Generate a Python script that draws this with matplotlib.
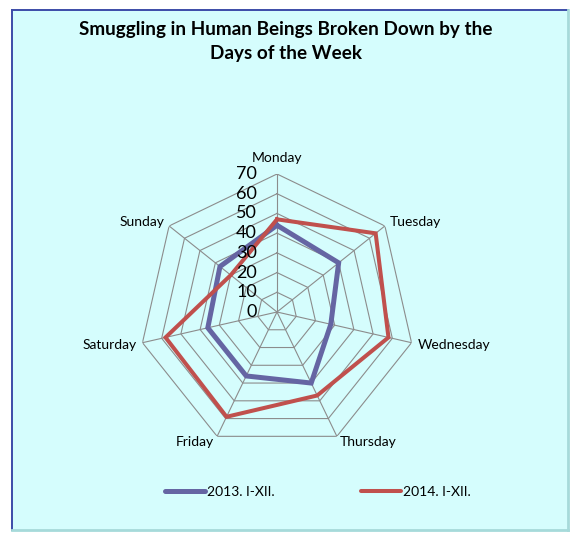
import numpy as np
import matplotlib
matplotlib.use("Agg")
import matplotlib.pyplot as plt
from matplotlib.patches import Rectangle
from matplotlib.lines import Line2D

days = ["Monday", "Tuesday", "Wednesday", "Thursday", "Friday", "Saturday", "Sunday"]
series_2013 = [44, 40, 28, 40, 36, 36, 37]
series_2014 = [47, 64, 58, 47, 59, 58, 30]
series_names = ["2013. I-XII.", "2014. I-XII."]
rings = [10, 20, 30, 40, 50, 60, 70]
rticks = [0, 10, 20, 30, 40, 50, 60, 70]

plt.rcParams['font.family'] = ['Lato', 'DejaVu Sans']

W, H = 571, 533
fig = plt.figure(figsize=(W / 100, H / 100), dpi=100, facecolor='white')

# chart area background
fig.patches.append(Rectangle((12 / W, 1 - 530 / H), 556 / W, 520 / H, transform=fig.transFigure,
                             facecolor='#D5FDFD', edgecolor='none', zorder=-5))
for xs, ys, c, w in [([12, 12], [530, 10], '#3C4CA8', 1.4),
                     ([12, 568], [10, 10], '#3C4CA8', 1.4),
                     ([568, 568], [530, 10], '#A6DADA', 2),
                     ([12, 568], [530, 530], '#A6DADA', 2)]:
    fig.lines.append(Line2D([x / W for x in xs], [1 - y / H for y in ys],
                            transform=fig.transFigure, color=c, lw=w, zorder=-4))

fig.text(286 / W, 1 - 29 / H, "Smuggling in Human Beings Broken Down by the",
         ha='center', va='center', fontsize=13.6, fontweight='bold', color='black')
fig.text(286 / W, 1 - 53 / H, "Days of the Week",
         ha='center', va='center', fontsize=13.6, fontweight='bold', color='black')

cx, cy, R = 277, 312, 138
ax = fig.add_axes([(cx - R) / W, 1 - (cy + R) / H, 2 * R / W, 2 * R / H], projection='polar')
ax.set_facecolor('none')
ax.set_theta_zero_location('N')
ax.set_theta_direction(-1)
ax.set_ylim(0, 70)
ax.grid(False)
ax.set_xticks([])
ax.set_yticks([])
ax.spines['polar'].set_visible(False)

n = len(days)
angles = [2 * np.pi * i / n for i in range(n)]
closed = angles + [angles[0]]

grid_c = '#8C8C8C'
for r in rings:
    ax.plot(closed, [r] * (n + 1), color=grid_c, lw=0.8, zorder=1)
for a in angles:
    ax.plot([a, a], [0, 70], color=grid_c, lw=0.8, zorder=1)

ax.plot(closed, series_2013 + [series_2013[0]], color='#6565A3', lw=3.6, zorder=3,
        solid_joinstyle='miter', label=series_names[0])
ax.plot(closed, series_2014 + [series_2014[0]], color='#C0504D', lw=2.9, zorder=4,
        solid_joinstyle='miter', label=series_names[1])

for r in rticks:
    ax.annotate(str(r), xy=(0, r), xytext=(-14.4, 0), textcoords='offset points',
                ha='right', va='center', fontsize=13, color='black', zorder=5)

px = 0.72  # pt per pixel
offsets = [((0, 16), 'center', 'center'),
           ((5, 4), 'left', 'center'),
           ((6.5, -2), 'left', 'center'),
           ((3, -6), 'left', 'center'),
           ((-3, -6), 'right', 'center'),
           ((-6, -2), 'right', 'center'),
           ((-5, 4), 'right', 'center')]
for a, d, (off, ha, va) in zip(angles, days, offsets):
    ax.annotate(d, xy=(a, 70), xytext=(off[0] * px, off[1] * px), textcoords='offset points',
                ha=ha, va=va, fontsize=10, color='black')

handles = [Line2D([], [], color='#6565A3', lw=3.6, solid_capstyle='round'),
           Line2D([], [], color='#C0504D', lw=2.9, solid_capstyle='round')]
fig.legend(handles, series_names, loc='center', bbox_to_anchor=(318 / W, 1 - 492 / H),
           ncol=2, frameon=False, fontsize=10, handlelength=2.9, handletextpad=0.15,
           columnspacing=6.2)

fig.savefig("out.png", dpi=100, facecolor='white')
